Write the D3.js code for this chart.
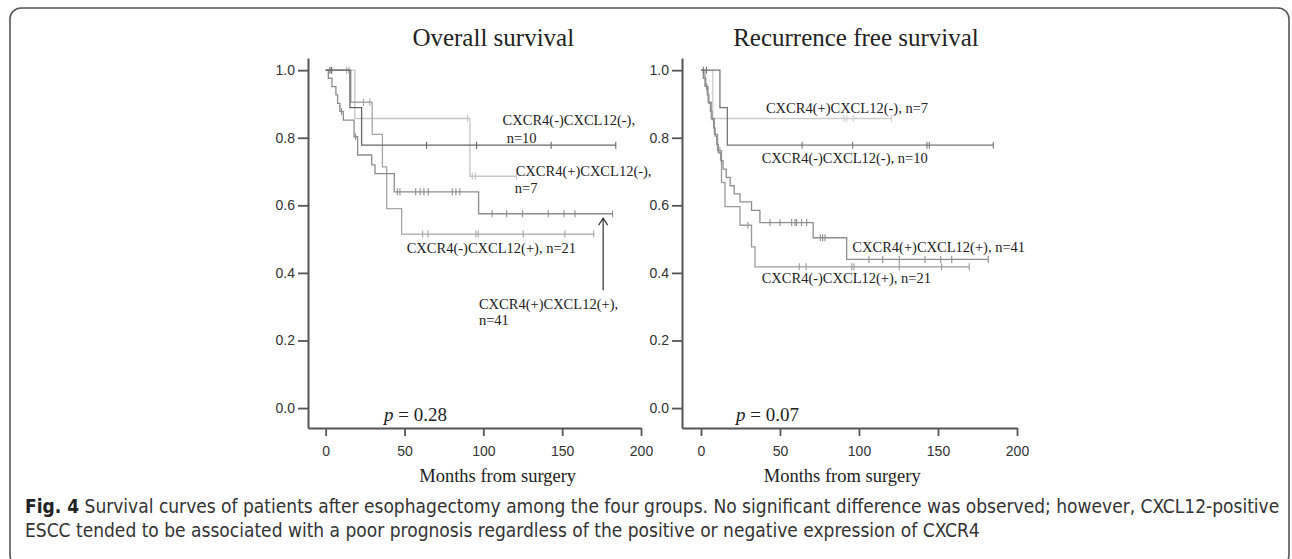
<!DOCTYPE html>
<html>
<head>
<meta charset="utf-8">
<script src="https://cdn.jsdelivr.net/npm/d3@7"></script>
<style>
  body { margin: 0; background: #fff; }
  svg { display: block; }
</style>
</head>
<body>
<div id="chart"></div>
<script>
// ---- data ----
var xTicks = [0, 50, 100, 150, 200];
var yTicks = [0, 0.2, 0.4, 0.6, 0.8, 1.0];

// Overall survival
var osTimes10 = [0, 15.4, 22.8];
var osSurv10 = [1, 0.889, 0.778];
var osCens10 = [2.7, 3.8, 64, 95.7, 143, 184];
var osEnd10 = 184;

var osTimes7 = [0, 18.5, 91.5];
var osSurv7 = [1, 0.857, 0.686];
var osCens7 = [90, 93, 95, 121];
var osEnd7 = 121;

var osTimes21 = [0, 16, 29.5, 36, 38.7, 48.2];
var osSurv21 = [1, 0.905, 0.81, 0.714, 0.59, 0.515];
var osCens21 = [13.3, 14.8, 24, 28, 61.5, 65, 95.3, 96.8, 125.3, 151.7, 170];
var osEnd21 = 170;

var osTimes41 = [0, 1.7, 4, 6.5, 7.6, 9, 11.2, 18, 20.3, 29.2, 31.3, 43.5, 97];
var osSurv41 = [1, 0.976, 0.951, 0.927, 0.902, 0.878, 0.852, 0.803, 0.749, 0.72, 0.694, 0.64, 0.575];
var osCens41 = [10, 19, 45.5, 47.1, 57.1, 59.9, 62.3, 65.1, 80.3, 82.6, 85.1, 105.6, 114.8, 124.9, 141.2, 151.1, 158.1, 182];
var osEnd41 = 182;

// Recurrence free survival
var rfsTimes10 = [0, 12, 16.7];
var rfsSurv10 = [1, 0.889, 0.778];
var rfsCens10 = [1.5, 3.5, 64, 96, 143, 144.5, 185];
var rfsEnd10 = 185;

var rfsTimes7 = [0, 7.5];
var rfsSurv7 = [1, 0.857];
var rfsCens7 = [90.5, 92.2, 96.4, 120.7];
var rfsEnd7 = 120.7;

var rfsTimes41 = [0, 1.5, 3, 4, 5, 6, 7, 8, 9, 10, 11, 12.5, 14, 16, 18.5, 21, 24.7, 32, 37.3, 71, 92.2];
var rfsSurv41 = [1, 0.976, 0.951, 0.927, 0.902, 0.878, 0.854, 0.829, 0.805, 0.78, 0.756, 0.732, 0.707, 0.683, 0.658, 0.634, 0.61, 0.585, 0.549, 0.504, 0.44];
var rfsCens41 = [3.6, 13, 43.7, 50, 57.4, 59.5, 60.5, 63.7, 66.9, 75.5, 77, 78.5, 106.3, 115, 125.5, 141.8, 151.7, 158.7, 181.8];
var rfsEnd41 = 181.8;

var rfsTimes21 = [0, 2.5, 4.5, 6.5, 8.5, 10.5, 13, 15.2, 24.7, 32, 34.2];
var rfsSurv21 = [1, 0.952, 0.905, 0.857, 0.81, 0.762, 0.667, 0.596, 0.541, 0.477, 0.418];
var rfsCens21 = [12, 29.7, 62.2, 66.5, 95.4, 96.8, 125.5, 152.3, 169.8];
var rfsEnd21 = 169.8;

var width = 1292;
var height = 559;

var svg = d3.select('#chart')
  .append('svg')
  .attr('width', width)
  .attr('height', height);

// frame
svg.append('rect')
  .attr('x', 10).attr('y', 8)
  .attr('width', 1279).attr('height', 558)
  .attr('rx', 11)
  .attr('fill', 'none')
  .attr('stroke', '#555')
  .attr('stroke-width', 1.6);

var y = d3.scaleLinear().domain([-0.059, 1.036]).range([428, 58]);

function stepAt(times, surv, t) {
  var s = surv[0];
  for (var i = 0; i < times.length; i++) {
    if (times[i] <= t) s = surv[i];
  }
  return s;
}

function drawPanel(opt) {
  var x = opt.x;
  var g = svg.append('g');

  // curves
  opt.series.forEach(function(d) {
    var pts = d.times.map(function(t, i) { return [t, d.surv[i]]; });
    pts.push([d.end, d.surv[d.surv.length - 1]]);
    var line = d3.line()
      .x(function(p) { return x(p[0]); })
      .y(function(p) { return y(p[1]); })
      .curve(d3.curveStepAfter);
    g.append('path')
      .attr('d', line(pts))
      .attr('fill', 'none')
      .attr('stroke', d.color)
      .attr('stroke-width', 1.3);
    g.selectAll(null)
      .data(d.cens)
      .enter()
      .append('line')
      .attr('x1', function(t) { return x(t); })
      .attr('x2', function(t) { return x(t); })
      .attr('y1', function(t) { return y(stepAt(d.times, d.surv, t)) - 3.5; })
      .attr('y2', function(t) { return y(stepAt(d.times, d.surv, t)) + 3.5; })
      .attr('stroke', d.color)
      .attr('stroke-width', 1.1);
  });

  // axes
  var xAxis = d3.axisBottom(x).tickValues(xTicks).tickSize(8).tickSizeOuter(0).tickPadding(10);
  var yAxis = d3.axisLeft(y).tickValues(yTicks).tickFormat(d3.format('.1f')).tickSize(10).tickSizeOuter(0).tickPadding(3);

  var gx = g.append('g').attr('transform', 'translate(0,428)').call(xAxis);
  var gy = g.append('g').attr('transform', 'translate(' + x.range()[0] + ',0)').call(yAxis);
  [gx, gy].forEach(function(a) {
    a.select('.domain').attr('stroke', '#555').attr('stroke-width', 2);
    a.selectAll('.tick line').attr('stroke', '#555').attr('stroke-width', 1.8);
    a.selectAll('.tick text')
      .attr('fill', '#333')
      .style('font-family', '"Liberation Sans", Arial, sans-serif')
      .style('font-size', '14px');
  });

  // titles
  g.append('text')
    .attr('x', x(opt.titleAt)).attr('y', 46)
    .attr('text-anchor', 'middle')
    .style('font-family', '"Liberation Serif", "Times New Roman", serif')
    .style('font-size', '25px')
    .attr('fill', '#222')
    .text(opt.title);

  g.append('text')
    .attr('x', x(opt.xTitleAt)).attr('y', 482)
    .attr('text-anchor', 'middle')
    .style('font-family', '"Liberation Serif", "Times New Roman", serif')
    .style('font-size', '18.5px')
    .attr('fill', '#222')
    .text('Months from surgery');

  var pt = g.append('text')
    .attr('x', x(opt.pAt)).attr('y', y(-0.038))
    .style('font-family', '"Liberation Serif", "Times New Roman", serif')
    .style('font-size', '19px')
    .attr('fill', '#222');
  pt.append('tspan').style('font-style', 'italic').text('p');
  pt.append('tspan').text(' = ' + opt.p);

  // group labels
  opt.labels.forEach(function(l) {
    g.append('text')
      .attr('x', x(l.t)).attr('y', y(l.s))
      .style('font-family', '"Liberation Serif", "Times New Roman", serif')
      .style('font-size', '14.5px')
      .attr('fill', '#222')
      .text(l.text);
  });

  if (opt.arrow) {
    var a = opt.arrow;
    g.append('line')
      .attr('x1', x(a.t)).attr('x2', x(a.t))
      .attr('y1', y(a.s0)).attr('y2', y(a.s1))
      .attr('stroke', '#333').attr('stroke-width', 1.2);
    g.append('path')
      .attr('d', 'M' + (x(a.t) - 4.5) + ',' + (y(a.s1) + 7) + 'L' + x(a.t) + ',' + y(a.s1) + 'L' + (x(a.t) + 4.5) + ',' + (y(a.s1) + 7))
      .attr('fill', 'none')
      .attr('stroke', '#333').attr('stroke-width', 1.2);
  }
}

drawPanel({
  x: d3.scaleLinear().domain([-11.2, 200]).range([308, 641]),
  title: 'Overall survival', titleAt: 106.3, xTitleAt: 109.1,
  p: '0.28', pAt: 37,
  series: [
    {times: osTimes7, surv: osSurv7, cens: osCens7, end: osEnd7, color: '#c6c6c6'},
    {times: osTimes21, surv: osSurv21, cens: osCens21, end: osEnd21, color: '#a6a6a6'},
    {times: osTimes41, surv: osSurv41, cens: osCens41, end: osEnd41, color: '#8c8c8c'},
    {times: osTimes10, surv: osSurv10, cens: osCens10, end: osEnd10, color: '#666'}
  ],
  labels: [
    {text: 'CXCR4(-)CXCL12(-),', t: 112.2, s: 0.837},
    {text: 'n=10', t: 114.8, s: 0.785},
    {text: 'CXCR4(+)CXCL12(-),', t: 120.5, s: 0.686},
    {text: 'n=7', t: 120, s: 0.636},
    {text: 'CXCR4(-)CXCL12(+), n=21', t: 51.4, s: 0.459},
    {text: 'CXCR4(+)CXCL12(+),', t: 97.2, s: 0.294},
    {text: 'n=41', t: 97.2, s: 0.245}
  ],
  arrow: {t: 176, s0: 0.349, s1: 0.562}
});

drawPanel({
  x: d3.scaleLinear().domain([-12, 200]).range([682, 1017]),
  title: 'Recurrence free survival', titleAt: 98.1, xTitleAt: 89.4,
  p: '0.07', pAt: 22.2,
  series: [
    {times: rfsTimes7, surv: rfsSurv7, cens: rfsCens7, end: rfsEnd7, color: '#cdcdcd'},
    {times: rfsTimes21, surv: rfsSurv21, cens: rfsCens21, end: rfsEnd21, color: '#9a9a9a'},
    {times: rfsTimes41, surv: rfsSurv41, cens: rfsCens41, end: rfsEnd41, color: '#8e8e8e'},
    {times: rfsTimes10, surv: rfsSurv10, cens: rfsCens10, end: rfsEnd10, color: '#777'}
  ],
  labels: [
    {text: 'CXCR4(+)CXCL12(-), n=7', t: 41.1, s: 0.872},
    {text: 'CXCR4(-)CXCL12(-), n=10', t: 38.4, s: 0.724},
    {text: 'CXCR4(+)CXCL12(+), n=41', t: 95.8, s: 0.461},
    {text: 'CXCR4(-)CXCL12(+), n=21', t: 38.4, s: 0.369}
  ]
});

// caption
var cap = svg.append('g')
  .style('font-family', '"Liberation Sans Narrow", "DejaVu Sans Condensed", "Liberation Sans", sans-serif')
  .style('font-size', '19px')
  .attr('fill', '#333');
var l1 = cap.append('text').attr('x', 25).attr('y', 513);
l1.append('tspan').style('font-weight', 'bold').attr('fill', '#222').text('Fig. 4');
l1.append('tspan').text(' Survival curves of patients after esophagectomy among the four groups. No significant difference was observed; however, CXCL12-positive');
cap.append('text').attr('x', 25).attr('y', 536.7)
  .text('ESCC tended to be associated with a poor prognosis regardless of the positive or negative expression of CXCR4');
</script>
</body>
</html>
